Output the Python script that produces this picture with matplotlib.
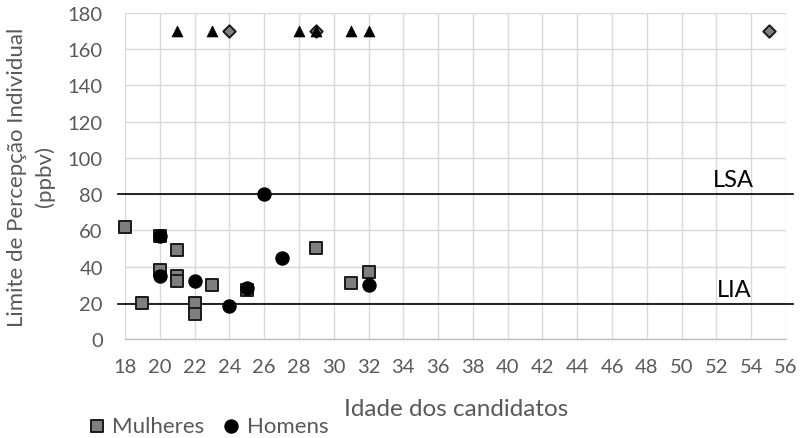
import matplotlib
matplotlib.use("Agg")
import matplotlib.pyplot as plt

# ---- data ----
mulheres_x = [18, 20, 21, 20, 21, 21, 23, 25, 19, 22, 22, 29, 31, 32]
mulheres_y = [62, 57, 49, 38, 35, 32, 30, 27, 20, 20, 14, 50, 31, 37]
homens_x = [20, 20, 22, 25, 24, 26, 27, 32]
homens_y = [57, 35, 32, 28, 18, 80, 45, 30]
mulheres_np_x = [24, 29, 55]
mulheres_np_y = [170, 170, 170]
homens_np_x = [21, 23, 28, 29, 31, 32]
homens_np_y = [170, 170, 170, 170, 170, 170]
lsa_x = [17.6, 56.4]
lsa_y = [80, 80]
lia_x = [17.6, 56.4]
lia_y = [19.3, 19.3]
x_ticks = list(range(18, 57, 2))
y_ticks = list(range(0, 181, 20))

plt.rcParams['font.family'] = ['Lato', 'DejaVu Sans']
TXT = '#595959'

fig = plt.figure(figsize=(8.01, 4.39), dpi=100)
ax = fig.add_axes([125/801, 1-340/439, 661/801, 326/439])

ax.set_xlim(18, 56)
ax.set_ylim(0, 180)
ax.set_xticks(x_ticks)
ax.set_yticks(y_ticks)
ax.grid(True, color='#d9d9d9', lw=1.0, zorder=0)
ax.set_axisbelow(True)
for s in ['top', 'right', 'left']:
    ax.spines[s].set_visible(False)
ax.spines['bottom'].set_color('#bfbfbf')
ax.spines['bottom'].set_linewidth(1.0)
ax.tick_params(axis='both', length=0, labelsize=14.5, colors=TXT)
ax.tick_params(axis='y', pad=16)
ax.tick_params(axis='x', pad=14)

ax.plot(lsa_x, lsa_y, color='black', lw=1.2, clip_on=False, zorder=2)
ax.plot(lia_x, lia_y, color='black', lw=1.2, clip_on=False, zorder=2)

sq = ax.scatter(mulheres_x, mulheres_y, marker='s', s=85, facecolor='#7f7f7f',
                edgecolor='#1a1a1a', linewidth=1.4, zorder=3, label='Mulheres',
                clip_on=False)
ci = ax.scatter(homens_x, homens_y, marker='o', s=88, facecolor='black',
                edgecolor='black', linewidth=1.0, zorder=4, label='Homens',
                clip_on=False)
ax.scatter(mulheres_np_x, mulheres_np_y, marker='D', s=40, facecolor='#7f7f7f',
           edgecolor='#1a1a1a', linewidth=1.4, zorder=5, clip_on=False)
ax.scatter(homens_np_x, homens_np_y, marker='^', s=62, facecolor='black',
           edgecolor='black', linewidth=0.5, zorder=6, clip_on=False)

ax.text(53, 88.3, 'LSA', fontsize=17, color='black', ha='center', va='center')
ax.text(53, 27.6, 'LIA', fontsize=17, color='black', ha='center', va='center')

fig.text(456/801, 1-410/439, 'Idade dos candidatos', fontsize=17.5, color=TXT,
         ha='center', va='center')
fig.text(31/801, 1-177/439, 'Limite de Percepção Individual\n(ppbv)', fontsize=16,
         color=TXT, ha='center', va='center', rotation=90, multialignment='center',
         linespacing=1.45)

leg = fig.legend(handles=[sq, ci], labels=['Mulheres', 'Homens'], loc='center left',
                 bbox_to_anchor=(88/801, 1-427/439), ncol=2, frameon=False,
                 fontsize=16, handlelength=0.8, handletextpad=0.3, columnspacing=0.8,
                 borderaxespad=0, borderpad=0)
for t in leg.get_texts():
    t.set_color(TXT)

fig.savefig('out.png', dpi=100)
